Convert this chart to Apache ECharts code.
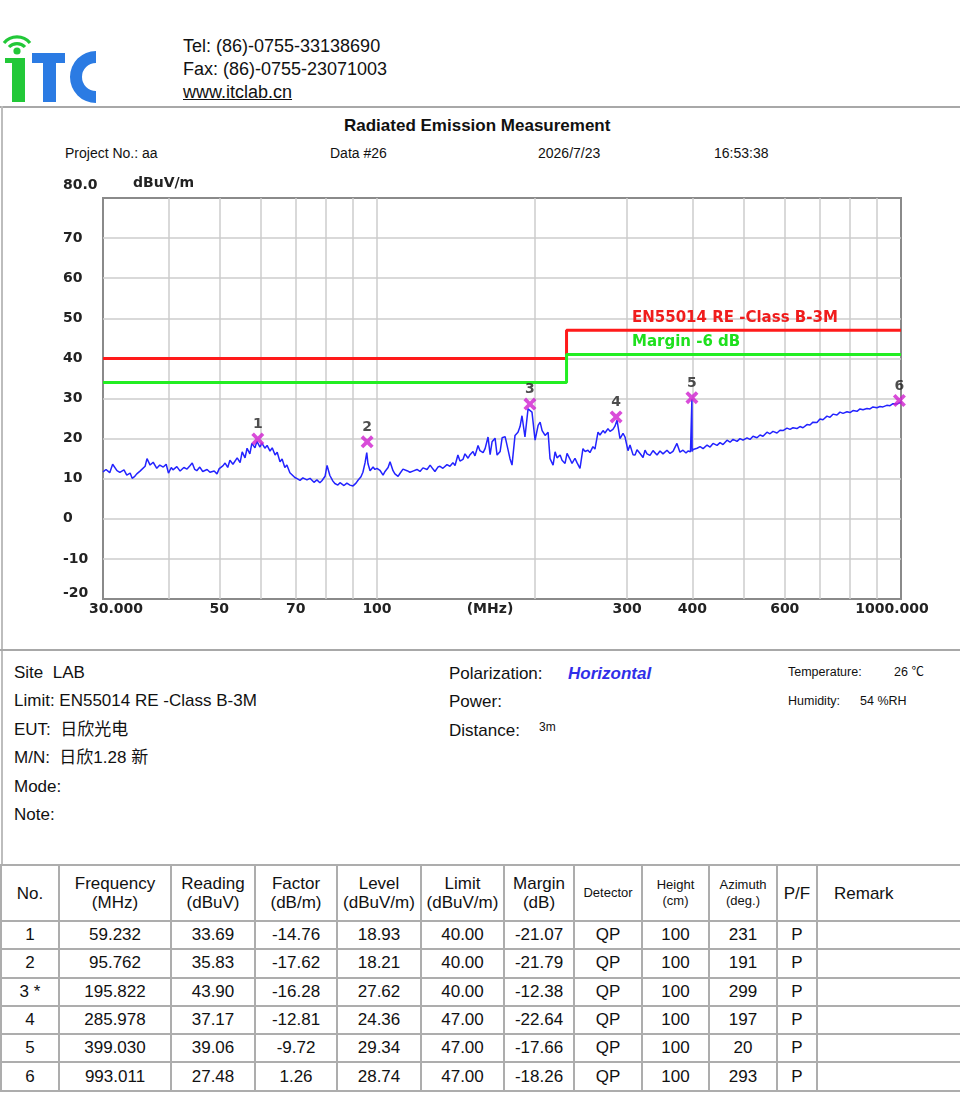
<!DOCTYPE html>
<html><head><meta charset="utf-8">
<script src="https://cdn.jsdelivr.net/npm/echarts@6/dist/echarts.min.js"></script>
<style>
html,body{margin:0;padding:0;background:#fff;}
body{width:960px;height:1100px;position:relative;overflow:hidden;font-family:"Liberation Sans",Arial,"Noto Sans CJK SC",sans-serif;color:#111;}
.t{position:absolute;white-space:nowrap;}
.hline{position:absolute;left:0;width:960px;height:2px;background:#a8a8a8;}
.vline{position:absolute;width:2px;background:#bdbdbd;}
#chart{position:absolute;left:0;top:108px;width:960px;height:540px;}
table{position:absolute;left:0;top:864px;border-collapse:collapse;table-layout:fixed;width:960px;font-family:"Liberation Sans",Arial,sans-serif;}
td,th{border:2px solid #adadad;text-align:center;padding:0;font-weight:normal;color:#111;}
th{font-size:17px;line-height:19px;height:54px;}
th.s{font-size:13px;line-height:16px;}
td{font-size:17px;height:26.3px;line-height:26px;}
th.rm{text-align:left;padding-left:16px;}
</style></head><body>

<svg class="t" style="left:0;top:28px" width="100" height="80" viewBox="0 28 100 80">
  <path d="M4,43 A17,17 0 0 1 30,43" fill="none" stroke="#22c838" stroke-width="3.2"/>
  <path d="M9,47 A11,11 0 0 1 25,47" fill="none" stroke="#22c838" stroke-width="3.2"/>
  <circle cx="17" cy="51" r="3.6" fill="#22c838"/>
  <rect x="12" y="58" width="13" height="44" fill="#22c838"/>
  <rect x="5" y="58" width="20" height="5" fill="#22c838"/>
  <rect x="32" y="53" width="33" height="10" fill="#2b7be3"/>
  <rect x="43" y="53" width="13" height="49" fill="#2b7be3"/>
  <path d="M96,51 A26,26 0 0 0 96,103 L96,91 A14,14 0 0 1 96,63 Z" fill="#2b7be3"/>
</svg>
<div class="t" style="left:183px;top:36px;font-size:18px;line-height:20px;">Tel: (86)-0755-33138690</div>
<div class="t" style="left:183px;top:59px;font-size:18px;line-height:20px;">Fax: (86)-0755-23071003</div>
<div class="t" style="left:183px;top:82px;font-size:18px;line-height:20px;text-decoration:underline;">www.itclab.cn</div>

<div class="hline" style="top:106px;"></div>
<div class="vline" style="left:1px;top:106px;height:760px;"></div>
<div class="t" style="left:344px;top:116px;font-size:17px;line-height:20px;font-weight:bold;">Radiated Emission Measurement</div>
<div class="t" style="left:65px;top:145px;font-size:14px;line-height:16px;">Project No.: aa</div>
<div class="t" style="left:330px;top:145px;font-size:14px;line-height:16px;">Data #26</div>
<div class="t" style="left:538px;top:145px;font-size:14px;line-height:16px;">2026/7/23</div>
<div class="t" style="left:714px;top:145px;font-size:14px;line-height:16px;">16:53:38</div>

<div id="chart"></div>

<div class="hline" style="top:649px;"></div>
<div class="t" style="left:14px;top:663px;font-size:17px;line-height:20px;">Site&nbsp; LAB</div>
<div class="t" style="left:14px;top:691px;font-size:17px;line-height:20px;">Limit: EN55014 RE -Class B-3M</div>
<div class="t" style="left:14px;top:720px;font-size:17px;line-height:20px;">EUT:&nbsp; 日欣光电</div>
<div class="t" style="left:14px;top:748px;font-size:17px;line-height:20px;">M/N:&nbsp; 日欣1.28 新</div>
<div class="t" style="left:14px;top:777px;font-size:17px;line-height:20px;">Mode:</div>
<div class="t" style="left:14px;top:805px;font-size:17px;line-height:20px;">Note:</div>
<div class="t" style="left:449px;top:664px;font-size:17px;line-height:20px;">Polarization:</div>
<div class="t" style="left:568px;top:664px;font-size:17px;line-height:20px;font-weight:bold;font-style:italic;color:#2f2fe8;">Horizontal</div>
<div class="t" style="left:449px;top:692px;font-size:17px;line-height:20px;">Power:</div>
<div class="t" style="left:449px;top:721px;font-size:17px;line-height:20px;">Distance:</div>
<div class="t" style="left:539px;top:720px;font-size:12px;line-height:14px;">3m</div>
<div class="t" style="left:788px;top:665px;font-size:12.5px;line-height:14px;">Temperature:</div>
<div class="t" style="left:894px;top:665px;font-size:12.5px;line-height:14px;">26 ℃</div>
<div class="t" style="left:788px;top:694px;font-size:12.5px;line-height:14px;">Humidity:</div>
<div class="t" style="left:860px;top:694px;font-size:12.5px;line-height:14px;">54 %RH</div>

<table id="tbl">
<colgroup>
<col style="width:58px"><col style="width:112px"><col style="width:84px"><col style="width:82px"><col style="width:84px"><col style="width:83px"><col style="width:70px"><col style="width:68px"><col style="width:67px"><col style="width:68px"><col style="width:40px"><col style="width:144px">
</colgroup>
<thead><tr>
<th>No.</th><th>Frequency<br>(MHz)</th><th>Reading<br>(dBuV)</th><th>Factor<br>(dB/m)</th><th>Level<br>(dBuV/m)</th><th>Limit<br>(dBuV/m)</th><th>Margin<br>(dB)</th><th class="s">Detector</th><th class="s">Height<br>(cm)</th><th class="s">Azimuth<br>(deg.)</th><th>P/F</th><th class="rm">Remark</th>
</tr></thead>
<tbody id="tb"></tbody>
</table>

<script>
// ---- trace ----
const traceFreq = [30.0,30.4,30.9,31.3,31.9,32.3,32.9,33.3,33.8,34.1,34.5,34.8,35.3,35.6,36.1,36.4,36.9,37.4,38.0,38.5,39.1,39.6,40.0,40.5,40.8,41.5,42.1,42.8,43.4,44.0,44.4,44.9,45.3,45.9,46.5,47.4,48.0,48.9,49.5,50.0,50.8,51.3,51.9,52.4,53.1,54.1,54.8,55.3,56.0,56.5,57.2,57.7,58.5,59.0,59.8,60.3,61.1,61.7,62.5,63.1,63.9,64.5,65.3,65.9,66.7,67.3,68.2,68.8,69.7,70.4,71.3,72.2,73.5,74.5,75.8,76.8,77.8,78.5,79.6,80.3,81.3,82.4,83.1,84.2,85.0,86.5,87.6,88.8,90.0,91.2,92.0,93.2,94.0,94.9,95.6,96.1,97.0,98.3,99.1,100.0,
101.3,102.7,103.6,105.0,105.9,107.3,108.2,109.7,110.6,112.1,114.1,115.6,117.1,119.2,120.8,122.4,124.6,126.3,127.9,129.0,130.7,131.9,133.6,136.0,137.8,139.6,140.9,142.7,144.0,145.9,147.2,149.2,150.5,152.5,153.8,155.9,157.2,159.4,160.8,162.9,164.4,165.8,168.0,169.5,171.8,173.3,175.6,177.8,179.4,181.0,183.4,185.8,187.5,189.1,191.6,194.2,195.9,197.6,200.3,203.0,204.8,206.6,209.3,212.1,213.9,216.8,218.7,220.6,223.6,225.5,228.5,230.5,233.5,235.6,238.7,240.8,244.0,247.2,249.4,252.7,254.9,258.3,260.6,264.1,266.4,270.0,272.3,275.9,278.4,282.0,284.5,287.1,290.9,294.8,297.4,301.3,304.0,308.0,310.8,313.5,317.7,321.9,324.7,327.6,331.9,336.3,342.3,346.8,351.4,357.6,362.4,367.2,373.6,378.6,383.7,388.8,392.2,396.5,398.6,399.0,399.4,401.1,408.2,413.6,419.1,426.5,432.2,437.8,445.6,451.5,457.5,465.6,471.8,478.1,486.5,492.9,499.4,508.3,515.0,521.9,531.1,538.2,545.3,554.9,562.3,569.7,579.9,587.6,595.4,605.9,614.0,622.1,632.9,641.4,650.0,661.5,670.3,679.2,691.2,700.4,709.7,722.3,731.9,741.6,754.8,764.8,775.0,788.7,799.2,809.8,824.2,835.1,846.2,861.1,872.6,884.1,899.7,911.6,923.7,939.4,953.0,965.4,982.7,995.6,1000.0];
const traceLevel = [11.7,12.3,11.5,13.6,12.0,11.6,12.2,10.9,11.4,10.1,10.6,11.2,11.9,12.3,13.1,15.0,13.4,14.1,12.6,13.4,12.9,13.6,11.4,12.8,12.2,13.0,11.9,12.8,12.4,13.3,13.9,12.3,12.0,12.9,11.8,12.3,11.6,11.9,11.2,12.5,13.2,13.9,12.8,14.6,13.6,15.2,14.0,16.7,15.2,17.6,16.2,18.8,17.7,19.3,17.9,18.9,17.6,18.3,16.9,17.7,15.9,16.6,14.2,14.9,12.8,13.4,11.5,11.9,10.3,10.0,9.6,10.2,9.7,10.1,9.1,9.7,9.0,9.5,10.6,13.3,10.8,9.4,8.8,8.4,9.0,8.3,8.9,8.4,8.2,8.9,9.6,10.5,11.6,14.0,16.5,13.8,12.0,12.9,12.3,12.6,
12.1,10.9,11.8,12.8,14.2,12.0,11.2,10.6,11.3,12.4,12.0,11.6,11.9,12.3,11.8,12.7,12.3,13.4,12.4,11.8,12.9,13.1,12.6,13.5,13.1,14.0,13.3,15.9,14.4,14.8,16.2,15.1,16.0,16.8,15.7,18.3,17.0,16.5,17.5,20.4,16.0,19.2,20.1,15.9,16.8,20.2,20.5,17.3,15.0,13.4,20.8,21.6,23.0,25.7,20.4,27.4,27.8,26.6,19.6,23.3,24.1,22.0,20.8,21.6,15.0,13.4,16.7,15.2,15.9,14.6,13.8,16.3,14.9,13.8,15.1,14.0,12.6,17.5,16.8,17.1,16.5,18.0,17.4,21.6,20.9,22.0,21.4,22.5,21.8,22.3,23.1,24.6,20.0,21.3,20.4,17.0,18.4,16.0,15.9,17.2,16.3,15.3,17.1,16.2,15.8,17.0,15.9,16.9,16.2,17.1,16.3,16.8,18.8,16.6,17.1,16.4,16.9,16.7,16.5,29.8,16.8,17.3,17.6,18.0,17.5,18.4,17.9,18.8,18.3,19.0,18.5,19.6,19.1,19.8,19.3,20.0,19.6,20.2,19.8,20.6,20.2,20.9,20.6,21.6,21.2,21.8,21.4,22.1,22.0,22.6,22.3,22.7,22.5,23.0,22.7,23.5,23.4,24.1,24.0,24.9,24.7,25.6,25.3,26.1,25.9,26.6,26.3,26.7,26.5,27.0,26.8,27.4,27.2,27.5,27.4,27.9,27.7,28.0,27.9,28.3,28.2,28.7,28.6,29.0,28.9];

// ---- limit lines ----
const limitFreq = [30, 230, 230, 1000];
const limitLevel = [40, 40, 47, 47];
const marginLevel = [34, 34, 41, 41];

// ---- markers / table ----
const markerNo = ['1','2','3 *','4','5','6'];
const markerFreq = [59.232, 95.762, 195.822, 285.978, 399.030, 993.011];
const markerPeak = [19.9, 19.2, 28.6, 25.4, 30.2, 29.5];
const reading = [33.69, 35.83, 43.90, 37.17, 39.06, 27.48];
const factor = [-14.76, -17.62, -16.28, -12.81, -9.72, 1.26];
const level = [18.93, 18.21, 27.62, 24.36, 29.34, 28.74];
const limitAt = [40.00, 40.00, 40.00, 47.00, 47.00, 47.00];
const margin = [-21.07, -21.79, -12.38, -22.64, -17.66, -18.26];
const detector = ['QP','QP','QP','QP','QP','QP'];
const heightCm = [100, 100, 100, 100, 100, 100];
const azimuth = [231, 191, 299, 197, 20, 293];
const pf = ['P','P','P','P','P','P'];

// ---- axis ticks ----
const xGridValues = [40,50,60,70,80,90,100,200,300,400,500,600,700,800,900];
const xLabelValues = [30,50,70,100,300,400,600,1000];
const yGridValues = [-10,0,10,20,30,40,50,60,70];
const yLabelValues = [-20,-10,0,10,20,30,40,50,60,70,80];

// table rows
const tb = document.getElementById('tb');
let html = '';
for (let i = 0; i < markerNo.length; i++) {
  html += '<tr><td>' + markerNo[i] + '</td><td>' + markerFreq[i].toFixed(3) + '</td><td>' + reading[i].toFixed(2) +
    '</td><td>' + factor[i].toFixed(2) + '</td><td>' + level[i].toFixed(2) + '</td><td>' + limitAt[i].toFixed(2) +
    '</td><td>' + margin[i].toFixed(2) + '</td><td>' + detector[i] + '</td><td>' + heightCm[i] + '</td><td>' + azimuth[i] +
    '</td><td>' + pf[i] + '</td><td></td></tr>';
}
tb.innerHTML = html;

const AF = '"DejaVu Sans", sans-serif';
const lblBase = {fontFamily: AF, fontWeight: 'bold', fontSize: 14, color: '#222'};

const chart = echarts.init(document.getElementById('chart'));
chart.setOption({
  animation: false,
  grid: {left: 103, right: 59, top: 90, bottom: 49, show: true, borderColor: '#8a8a8a', borderWidth: 2,
         containLabel: false, outerBoundsMode: 'none'},
  xAxis: {
    type: 'log', logBase: 10, min: 30, max: 1000,
    axisLine: {show: false},
    axisTick: {show: false, customValues: xGridValues},
    splitLine: {show: true, lineStyle: {color: '#cdcdcd', width: 1.5}},
    minorTick: {show: false}, minorSplitLine: {show: false},
    axisLabel: {
      customValues: xLabelValues, margin: 3,
      formatter: function (v) {
        const r = Math.round(v);
        if (r === 30) return '{l|30.000}';
        if (r === 1000) return '{r|1000.000}';
        return '{n|' + r + '}';
      },
      rich: {
        n: Object.assign({}, lblBase),
        l: Object.assign({padding: [0, 0, 0, 26]}, lblBase),
        r: Object.assign({padding: [0, 18, 0, 0]}, lblBase)
      }
    },
    name: '(MHz)', nameLocation: 'middle', nameGap: 3, nameMoveOverlap: false,
    nameTextStyle: Object.assign({padding: [0, 24, 0, 0]}, lblBase)
  },
  yAxis: {
    type: 'value', min: -20, max: 80, interval: 10,
    axisLine: {show: false},
    axisTick: {show: false, customValues: yGridValues},
    splitLine: {show: true, lineStyle: {color: '#cdcdcd', width: 1.5}},
    axisLabel: {
      customValues: yLabelValues, align: 'left', margin: 40,
      formatter: function (v) {
        if (v === 80) return '{t|80.0}\n{t| }';
        if (v === -20) return '{b|-20}\n{b| }';
        return '{n|' + v + '}';
      },
      rich: {
        n: Object.assign({}, lblBase),
        t: Object.assign({lineHeight: 26}, lblBase),
        b: Object.assign({lineHeight: 12}, lblBase)
      }
    },
    name: 'dBuV/m', nameLocation: 'end', nameGap: 15, nameMoveOverlap: false,
    nameTextStyle: Object.assign({align: 'left', verticalAlign: 'middle', padding: [0, 0, 0, 30]}, lblBase)
  },
  graphic: [
    {type: 'text', x: 632, y: 210, z: 100, style: {text: 'EN55014 RE -Class B-3M', fill: '#f01c1c', font: 'bold 15px "DejaVu Sans"', verticalAlign: 'middle'}},
    {type: 'text', x: 632, y: 234, z: 100, style: {text: 'Margin -6 dB', fill: '#1ee01e', font: 'bold 15px "DejaVu Sans"', verticalAlign: 'middle'}}
  ],
  series: [
    {
      name: 'Trace', type: 'line', symbol: 'none', z: 3,
      lineStyle: {color: '#2323ff', width: 1.5},
      data: traceFreq.map(function (f, i) { return [f, traceLevel[i]]; })
    },
    {
      name: 'Limit', type: 'line', symbol: 'none', z: 4,
      lineStyle: {color: '#ff1a1a', width: 3},
      data: limitFreq.map(function (f, i) { return [f, limitLevel[i]]; })
    },
    {
      name: 'Margin', type: 'line', symbol: 'none', z: 4,
      lineStyle: {color: '#22ee22', width: 3},
      data: limitFreq.map(function (f, i) { return [f, marginLevel[i]]; })
    },
    {
      name: 'Markers', type: 'scatter', z: 6,
      symbol: 'path://M2,0 L5,3 L8,0 L10,2 L7,5 L10,8 L8,10 L5,7 L2,10 L0,8 L3,5 L0,2 Z',
      symbolSize: 13,
      itemStyle: {color: '#d01fd0'},
      label: {
        show: true, position: 'top', distance: 1,
        formatter: function (p) { return String(p.dataIndex + 1); },
        color: '#222', fontFamily: AF, fontWeight: 'bold', fontSize: 14
      },
      data: markerFreq.map(function (f, i) { return [f, markerPeak[i]]; })
    }
  ]
});
</script>
</body></html>
